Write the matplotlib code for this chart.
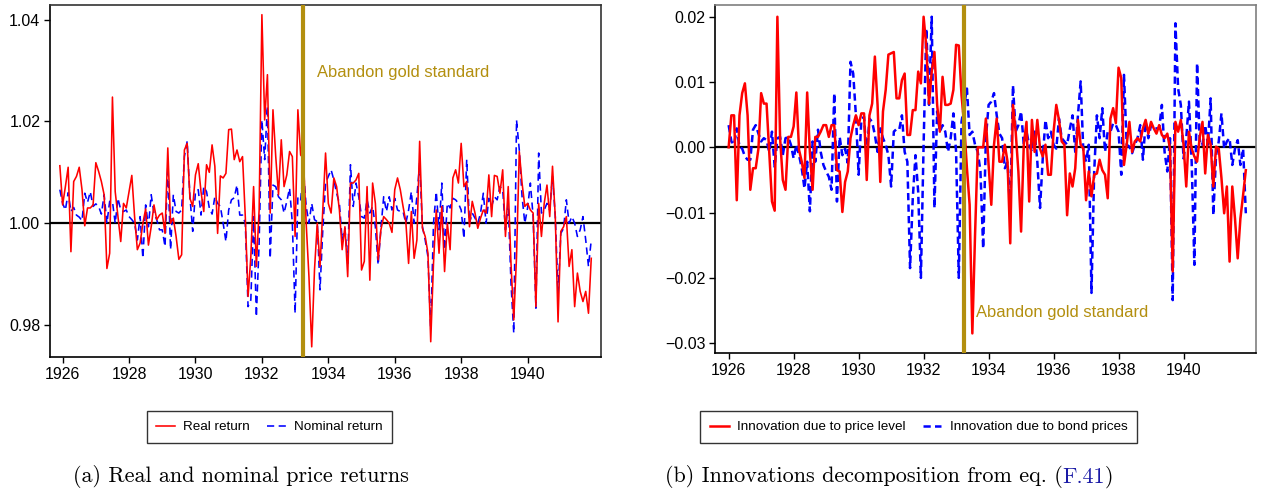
import numpy as np
import matplotlib
matplotlib.use("Agg")
import matplotlib.pyplot as plt

plt.rcParams['font.family'] = ['Liberation Sans', 'DejaVu Sans']

# ---------------- data ----------------
real_return = [
    1.0113, 1.0036, 1.0072, 1.0110, 0.9944, 1.0082, 1.0092, 1.0110, 1.0066, 0.9995,
    1.0030, 1.0030, 1.0036, 1.0119, 1.0102, 1.0082, 1.0056, 0.9911, 0.9941, 1.0248,
    1.0062, 1.0013, 0.9964, 1.0039, 1.0030, 1.0062, 1.0094, 1.0013, 0.9948, 0.9961,
    1.0000, 1.0028, 0.9957, 0.9993, 1.0036, 1.0007, 1.0016, 1.0020, 0.9980, 1.0148,
    1.0000, 1.0010, 0.9974, 0.9929, 0.9938, 1.0144, 1.0157, 1.0049, 1.0033, 1.0095,
    1.0117, 1.0062, 1.0023, 1.0115, 1.0100, 1.0154, 1.0112, 0.9980, 1.0093, 1.0089,
    1.0098, 1.0184, 1.0185, 1.0125, 1.0144, 1.0121, 1.0131, 1.0013, 0.9856, 0.9934,
    1.0072, 0.9915, 1.0026, 1.0410, 1.0203, 1.0292, 1.0020, 1.0223, 1.0131, 1.0056,
    1.0164, 1.0072, 1.0095, 1.0141, 1.0131, 0.9974, 1.0223, 1.0134, 1.0128, 1.0000,
    0.9895, 0.9757, 0.9908, 1.0000, 0.9915, 1.0026, 1.0138, 1.0039, 1.0020, 1.0089,
    1.0072, 1.0026, 0.9948, 0.9993, 0.9895, 1.0079, 1.0079, 1.0085, 1.0098, 0.9908,
    0.9925, 1.0072, 0.9888, 1.0079, 1.0039, 0.9928, 0.9987, 1.0013, 1.0007, 1.0000,
    0.9982, 1.0066, 1.0089, 1.0066, 1.0033, 1.0003, 0.9921, 1.0023, 0.9931, 0.9967,
    1.0161, 0.9990, 0.9974, 0.9941, 0.9767, 0.9921, 1.0026, 0.9941, 1.0033, 0.9905,
    1.0000, 0.9948, 1.0089, 1.0105, 1.0079, 1.0157, 1.0072, 1.0082, 0.9993, 1.0043,
    1.0020, 0.9990, 1.0010, 1.0026, 1.0020, 1.0095, 1.0013, 1.0094, 1.0092, 1.0059,
    1.0105, 0.9974, 1.0072, 0.9921, 0.9810, 0.9934, 1.0141, 1.0079, 1.0033, 1.0039,
    1.0026, 1.0020, 0.9836, 1.0039, 0.9974, 1.0039, 1.0075, 1.0013, 1.0112, 1.0013,
    0.9806, 0.9984, 0.9993, 1.0013, 0.9915, 0.9948, 0.9836, 0.9902, 0.9866, 0.9846,
    0.9866, 0.9823, 0.9931,
]
nominal_return = [
    1.0066, 1.0039, 1.0026, 1.0060, 1.0023, 1.0031, 1.0016, 1.0012, 1.0005, 1.0059,
    1.0041, 1.0062, 1.0033, 1.0038, 1.0033, 1.0018, 1.0056, 1.0000, 1.0043, 1.0043,
    1.0000, 1.0049, 1.0026, 1.0023, 1.0026, 1.0013, 1.0007, 1.0000, 0.9967, 1.0013,
    0.9931, 1.0036, 0.9993, 1.0056, 1.0020, 1.0007, 0.9987, 0.9987, 0.9954, 1.0112,
    0.9948, 1.0056, 1.0023, 1.0020, 1.0026, 1.0131, 1.0161, 1.0052, 0.9984, 1.0062,
    1.0066, 1.0016, 1.0072, 1.0062, 1.0030, 1.0018, 1.0052, 1.0039, 1.0033, 1.0000,
    0.9964, 1.0026, 1.0046, 1.0050, 1.0075, 1.0016, 1.0016, 1.0000, 0.9836, 0.9849,
    1.0013, 0.9816, 0.9961, 1.0203, 1.0125, 1.0230, 0.9931, 1.0075, 1.0072, 1.0052,
    1.0046, 1.0020, 1.0043, 1.0069, 1.0000, 0.9823, 1.0052, 1.0046, 1.0105, 1.0033,
    1.0000, 1.0039, 1.0007, 1.0003, 0.9869, 0.9987, 1.0079, 1.0092, 1.0105, 1.0085,
    1.0059, 1.0039, 0.9967, 0.9990, 0.9921, 1.0115, 1.0033, 1.0079, 1.0052, 1.0013,
    1.0010, 1.0046, 1.0020, 1.0033, 0.9993, 0.9918, 0.9990, 1.0052, 1.0023, 1.0052,
    1.0026, 1.0049, 1.0026, 1.0023, 1.0023, 1.0000, 1.0026, 1.0062, 1.0000, 1.0052,
    1.0118, 0.9993, 0.9967, 0.9934, 0.9790, 1.0000, 1.0062, 0.9987, 1.0079, 0.9948,
    1.0039, 1.0030, 1.0049, 1.0046, 1.0039, 1.0026, 0.9970, 1.0125, 1.0000, 1.0020,
    1.0010, 1.0000, 1.0020, 1.0059, 1.0000, 1.0049, 1.0033, 1.0052, 1.0046, 1.0072,
    1.0066, 0.9987, 1.0039, 0.9882, 0.9784, 1.0203, 1.0144, 1.0052, 1.0000, 1.0030,
    1.0079, 1.0013, 0.9833, 1.0138, 1.0020, 1.0026, 1.0039, 1.0026, 1.0092, 1.0013,
    0.9862, 0.9980, 0.9990, 1.0046, 1.0000, 1.0013, 1.0000, 0.9974, 0.9987, 1.0013,
    0.9967, 0.9915, 0.9967,
]
innov_price_level = [
    0.0000, 0.0049, 0.0049, -0.0081, 0.0049, 0.0083, 0.0098, 0.0049, -0.0065, -0.0032,
    -0.0032, -0.0002, 0.0083, 0.0067, 0.0067, -0.0007, -0.0083, -0.0097, 0.0200, 0.0014,
    -0.0050, -0.0065, 0.0016, 0.0016, 0.0032, 0.0084, -0.0004, -0.0022, -0.0047, 0.0084,
    -0.0007, -0.0065, 0.0016, 0.0016, 0.0024, 0.0034, 0.0034, 0.0016, 0.0034, 0.0034,
    -0.0035, -0.0037, -0.0099, -0.0053, -0.0037, 0.0014, 0.0034, 0.0049, 0.0034, 0.0052,
    0.0052, -0.0050, 0.0049, 0.0067, 0.0139, 0.0065, -0.0053, 0.0055, 0.0088, 0.0142,
    0.0144, 0.0146, 0.0075, 0.0075, 0.0103, 0.0113, 0.0019, 0.0019, 0.0057, 0.0057,
    0.0116, 0.0098, 0.0200, 0.0154, 0.0067, 0.0116, 0.0146, 0.0065, 0.0024, 0.0108,
    0.0065, 0.0065, 0.0067, 0.0088, 0.0157, 0.0156, 0.0080, 0.0034, -0.0032, -0.0088,
    -0.0285, -0.0134, 0.0000, 0.0000, 0.0000, 0.0044, -0.0027, -0.0088, 0.0004, 0.0044,
    -0.0022, -0.0022, 0.0004, -0.0022, -0.0147, 0.0065, 0.0024, -0.0037, -0.0129, 0.0004,
    0.0039, -0.0083, 0.0042, -0.0007, 0.0042, -0.0002, -0.0014, 0.0004, -0.0042, -0.0042,
    0.0024, 0.0065, 0.0042, 0.0009, 0.0004, -0.0104, -0.0040, -0.0060, -0.0032, 0.0042,
    0.0004, -0.0002, -0.0081, -0.0037, -0.0075, -0.0042, -0.0040, -0.0019, -0.0035, -0.0042,
    -0.0078, 0.0044, 0.0060, 0.0037, 0.0122, 0.0106, -0.0027, 0.0004, 0.0039, -0.0007,
    0.0009, 0.0014, 0.0009, 0.0029, 0.0042, 0.0021, 0.0039, 0.0029, 0.0021, 0.0034,
    0.0019, 0.0014, 0.0021, -0.0002, -0.0190, 0.0039, 0.0024, 0.0042, 0.0004, -0.0060,
    0.0024, -0.0002, -0.0014, -0.0022, 0.0016, 0.0039, -0.0040, 0.0019, 0.0004, -0.0060,
    0.0001, -0.0002, -0.0047, -0.0101, -0.0060, -0.0175, -0.0060, -0.0109, -0.0170, -0.0109,
    -0.0073, -0.0035,
]
innov_bond_prices = [
    0.0034, 0.0009, 0.0004, 0.0029, 0.0001, -0.0002, -0.0014, -0.0019, -0.0019, 0.0027,
    0.0034, 0.0021, 0.0009, 0.0014, 0.0011, -0.0007, 0.0024, -0.0030, 0.0014, 0.0016,
    -0.0012, 0.0014, 0.0016, 0.0004, -0.0017, 0.0004, -0.0012, -0.0032, -0.0063, -0.0022,
    -0.0098, 0.0009, -0.0022, 0.0027, -0.0007, -0.0027, -0.0037, -0.0045, -0.0065, 0.0083,
    -0.0083, 0.0016, -0.0012, -0.0002, -0.0024, 0.0131, 0.0113, 0.0049, -0.0042, 0.0042,
    0.0047, -0.0017, 0.0044, 0.0039, 0.0019, -0.0007, 0.0029, 0.0014, 0.0004, -0.0012,
    -0.0060, 0.0024, 0.0028, 0.0027, 0.0049, -0.0007, -0.0022, -0.0185, -0.0078, -0.0012,
    -0.0068, -0.0200, 0.0004, 0.0182, 0.0065, 0.0200, -0.0093, 0.0055, 0.0024, 0.0034,
    0.0024, -0.0007, 0.0014, 0.0052, -0.0007, -0.0200, 0.0039, 0.0065, 0.0090, 0.0019,
    0.0024, 0.0004, -0.0007, -0.0037, -0.0155, 0.0014, 0.0065, 0.0070, 0.0083, 0.0049,
    0.0021, 0.0014, -0.0032, -0.0022, -0.0098, 0.0095, 0.0024, 0.0034, 0.0055, 0.0004,
    0.0024, 0.0004, -0.0007, 0.0024, -0.0022, -0.0093, -0.0017, 0.0042, 0.0014, 0.0024,
    0.0004, -0.0002, 0.0044, 0.0014, 0.0009, 0.0004, 0.0028, 0.0049, -0.0007, 0.0049,
    0.0101, -0.0007, -0.0022, 0.0004, -0.0223, -0.0037, 0.0049, 0.0014, 0.0060, -0.0007,
    0.0024, 0.0024, 0.0037, 0.0034, 0.0024, -0.0042, 0.0111, 0.0004, 0.0001, -0.0009,
    0.0004, 0.0014, 0.0034, -0.0019, 0.0039, 0.0014, 0.0034, 0.0029, 0.0029, 0.0029,
    0.0065, -0.0007, -0.0037, 0.0014, -0.0234, 0.0190, 0.0090, 0.0065, -0.0017, 0.0014,
    0.0070, -0.0022, -0.0180, 0.0129, 0.0004, 0.0004, 0.0034, 0.0004, 0.0075, -0.0104,
    -0.0012, 0.0009, 0.0052, -0.0002, 0.0009, 0.0014, -0.0027, -0.0002, 0.0011, -0.0027,
    -0.0002, -0.0101,
]
gold_date = 1933.25
year_ticks = [1926, 1928, 1930, 1932, 1934, 1936, 1938, 1940]
left_yticks = [0.98, 1.00, 1.02, 1.04]
right_yticks = [-0.03, -0.02, -0.01, 0.00, 0.01, 0.02]

# monthly dates (decimal years)
t_left = 1925 + 11 / 12 + np.arange(len(real_return)) / 12
t_right = 1926 + np.arange(len(innov_price_level)) / 12

GOLD = '#B38F0F'
fig = plt.figure(figsize=(12.63, 4.93), dpi=100)

ax1 = fig.add_axes([50 / 1263, 1 - 357 / 493, 551 / 1263, 352 / 493])
ax2 = fig.add_axes([715 / 1263, 1 - 353 / 493, 541 / 1263, 348 / 493])

# ---- left panel ----
ax1.axhline(1.0, color='black', lw=1.6, zorder=1)
l1, = ax1.plot(t_left, real_return, color='#FF0000', lw=1.15, zorder=3, label='Real return')
l2, = ax1.plot(t_left, nominal_return, color='#0000FF', lw=1.15, ls=(0, (4.5, 2.8)),
               zorder=2, label='Nominal return')
ax1.axvline(gold_date, color=GOLD, lw=3.0, zorder=4)
ax1.text(1933.67, 1.0297, 'Abandon gold standard', color=GOLD, fontsize=11.9,
         va='center', ha='left')
ax1.set_xlim(1925.62, 1942.21)
ax1.set_ylim(0.9737, 1.0429)
ax1.set_xticks(year_ticks)
ax1.set_yticks(left_yticks)
ax1.set_yticklabels([f'{v:.2f}' for v in left_yticks])

# ---- right panel ----
ax2.axhline(0.0, color='black', lw=1.6, zorder=1)
r1, = ax2.plot(t_right, innov_price_level, color='#FF0000', lw=1.8, zorder=3,
               label='Innovation due to price level')
r2, = ax2.plot(t_right, innov_bond_prices, color='#0000FF', lw=1.8, ls=(0, (2.9, 1.7)),
               zorder=2, label='Innovation due to bond prices')
ax2.axvline(gold_date, color=GOLD, lw=3.0, zorder=4)
ax2.text(1933.62, -0.0253, 'Abandon gold standard', color=GOLD, fontsize=11.9,
         va='center', ha='left')
ax2.set_xlim(1925.58, 1942.23)
ax2.set_ylim(-0.0315, 0.0218)
ax2.set_xticks(year_ticks)
ax2.set_yticks(right_yticks)
ax2.set_yticklabels([f'{v:.2f}'.replace('-', '\u2212') for v in right_yticks])

for ax in (ax1, ax2):
    ax.tick_params(axis='both', labelsize=11.5, direction='out', length=4, width=1.0,
                   colors='black', pad=3)
    for s in ax.spines.values():
        s.set_linewidth(1.2)
        s.set_color('black')
for s in ('top', 'right'):
    ax2.spines[s].set_color('#7f7f7f')
    ax1.spines[s].set_color('#333333')

# legends
leg_kw = dict(loc='center', ncol=2, fontsize=9.7, frameon=True, fancybox=False,
              edgecolor='#333333', framealpha=1, handlelength=1.4, columnspacing=1.3,
              borderpad=0.7, handletextpad=0.6, borderaxespad=0)
lg1 = fig.legend(handles=[l1, l2], bbox_to_anchor=(269.5 / 1263, 1 - 427 / 493), **leg_kw)
lg2 = fig.legend(handles=[r1, r2], bbox_to_anchor=(918.5 / 1263, 1 - 427 / 493), **leg_kw)
for lg in (lg1, lg2):
    lg.get_frame().set_linewidth(1.0)

# captions (Computer Modern)
cap_kw = dict(fontsize=15.9, family='cmr10', va='center')
fig.text(240.5 / 1263, 1 - 477 / 493, '(a) Real and nominal price returns', ha='center', **cap_kw)

fig.canvas.draw()
r = fig.canvas.get_renderer()
parts = [('(b) Innovations decomposition from eq. (', 'black'), ('F.41', '#1A1AA6'), (')', 'black')]
texts = [fig.text(0, 1 - 477 / 493, p, color=c, ha='left', **cap_kw) for p, c in parts]
widths = [t.get_window_extent(r).width for t in texts]
total = sum(widths)
x0 = 889 - total / 2
for t, w in zip(texts, widths):
    t.set_x(x0 / 1263)
    x0 += w

fig.savefig('out.png', dpi=100)
